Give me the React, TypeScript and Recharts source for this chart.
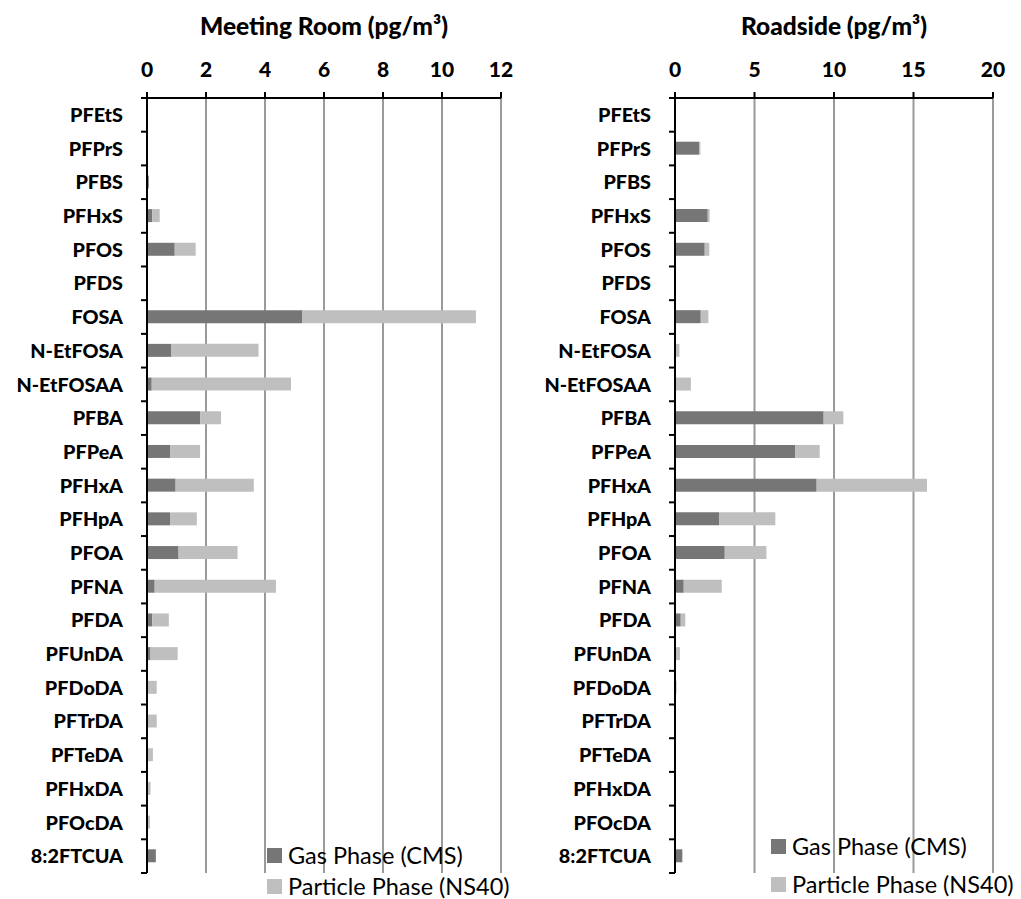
import React from 'react';
import { BarChart, Bar, XAxis, YAxis, CartesianGrid, Legend, Label } from 'recharts';

const compounds = [
  'PFEtS', 'PFPrS', 'PFBS', 'PFHxS', 'PFOS', 'PFDS', 'FOSA', 'N-EtFOSA', 'N-EtFOSAA',
  'PFBA', 'PFPeA', 'PFHxA', 'PFHpA', 'PFOA', 'PFNA', 'PFDA', 'PFUnDA', 'PFDoDA',
  'PFTrDA', 'PFTeDA', 'PFHxDA', 'PFOcDA', '8:2FTCUA',
];

// pg/m3
const meetingGas = [0, 0, 0.06, 0.18, 0.94, 0, 5.27, 0.83, 0.16, 1.81, 0.78, 0.97, 0.78, 1.07, 0.26, 0.18, 0.12, 0, 0, 0, 0, 0, 0.3];
const meetingParticle = [0, 0, 0, 0.25, 0.71, 0, 5.88, 2.95, 4.72, 0.7, 1.02, 2.65, 0.91, 2.0, 4.11, 0.56, 0.92, 0.33, 0.33, 0.2, 0.12, 0.1, 0];
const roadGas = [0, 1.53, 0, 2.06, 1.87, 0, 1.62, 0, 0, 9.35, 7.55, 8.91, 2.77, 3.13, 0.55, 0.36, 0, 0, 0, 0, 0, 0, 0.46];
const roadParticle = [0, 0.07, 0, 0.12, 0.29, 0, 0.48, 0.28, 1.0, 1.24, 1.55, 6.94, 3.54, 2.62, 2.39, 0.29, 0.31, 0.1, 0.05, 0, 0, 0, 0];

const meetingTicks = [0, 2, 4, 6, 8, 10, 12];
const roadTicks = [0, 5, 10, 15, 20];

const GAS = 'Gas Phase (CMS)';
const PARTICLE = 'Particle Phase (NS40)';

const FONT = 'Lato, sans-serif';
const TICK_SIZE = 6;
const TICK_MARGIN = 18;

const meetingData = compounds.map((name, i) => ({ name, gas: meetingGas[i], particle: meetingParticle[i] }));
const roadData = compounds.map((name, i) => ({ name, gas: roadGas[i], particle: roadParticle[i] }));

// category label plus a short tick on the boundary between rows
function CompoundTick(props: any) {
  const { x, y, payload, index } = props;
  const half = payload.offset ?? 16.85;
  const lx1 = x + TICK_MARGIN;
  const lx2 = x + TICK_MARGIN + TICK_SIZE;
  return (
    <g>
      <text x={x} y={y} dy="0.36em" textAnchor="end" fontFamily={FONT} fontWeight={900} fontSize={19.8} fill="#000">
        {payload.value}
      </text>
      {index === 0 && <line x1={lx1} x2={lx2} y1={y - half} y2={y - half} stroke="#000" strokeWidth={2} />}
      <line x1={lx1} x2={lx2} y1={y + half} y2={y + half} stroke="#000" strokeWidth={2} />
    </g>
  );
}

function PhaseLegend(props: any) {
  const { payload, gap } = props;
  return (
    <div style={{ fontFamily: FONT }}>
      {(payload || []).map((p: any, i: number) => (
        <div key={i} style={{ display: 'flex', alignItems: 'center', height: 20, marginBottom: gap - 20 }}>
          <span style={{ width: 15, height: 15, background: p.color, marginRight: 6, display: 'inline-block' }} />
          <span style={{ fontSize: 23.5, lineHeight: '20px', color: '#000', whiteSpace: 'nowrap' }}>{p.value}</span>
        </div>
      ))}
    </div>
  );
}

function Panel(props: any) {
  const { data, title, ticks, max, width, yWidth, right, legendLeft, legendTop, legendGap } = props;
  return (
    <BarChart
      layout="vertical"
      width={width}
      height={899}
      data={data}
      margin={{ top: 0, right, bottom: 26, left: 0 }}
      barCategoryGap={0}
    >
      <CartesianGrid horizontal={false} vertical stroke="#9a9a9a" strokeWidth={2} />
      <XAxis
        type="number"
        orientation="top"
        height={98}
        domain={[0, max]}
        ticks={ticks}
        interval={0}
        tickSize={TICK_SIZE}
        tickMargin={15}
        axisLine={{ stroke: '#000', strokeWidth: 2 }}
        tickLine={{ stroke: '#000', strokeWidth: 2 }}
        tick={{ fill: '#000', fontFamily: FONT, fontWeight: 900, fontSize: 21 }}
      >
        <Label
          value={title}
          position="insideTop"
          offset={18}
          style={{ fill: '#000', fontFamily: FONT, fontWeight: 900, fontSize: 24.5 }}
        />
      </XAxis>
      <YAxis
        type="category"
        dataKey="name"
        width={yWidth}
        interval={0}
        tickSize={TICK_SIZE}
        tickMargin={TICK_MARGIN}
        tickLine={false}
        axisLine={{ stroke: '#000', strokeWidth: 2 }}
        tick={<CompoundTick />}
      />
      <Legend
        layout="vertical"
        align="center"
        verticalAlign="middle"
        wrapperStyle={{ left: legendLeft, top: legendTop, width: 280, height: 52 }}
        content={<PhaseLegend gap={legendGap} />}
      />
      <Bar dataKey="gas" name={GAS} stackId="a" fill="#767676" barSize={13} isAnimationActive={false} />
      <Bar dataKey="particle" name={PARTICLE} stackId="a" fill="#bfbfbf" barSize={13} isAnimationActive={false} />
    </BarChart>
  );
}

export default function App() {
  return (
    <div style={{ position: 'absolute', left: 0, top: 0, width: 1021, height: 899, background: '#fff', fontFamily: FONT, overflow: 'hidden' }}>
      <div style={{ position: 'absolute', left: 0, top: 0 }}>
        <Panel
          data={meetingData}
          title="Meeting Room (pg/m³)"
          ticks={meetingTicks}
          max={12}
          width={520}
          yWidth={147}
          right={19}
          legendLeft={267}
          legendTop={845}
          legendGap={31}
        />
      </div>
      <div style={{ position: 'absolute', left: 530, top: 0 }}>
        <Panel
          data={roadData}
          title="Roadside (pg/m³)"
          ticks={roadTicks}
          max={20}
          width={491}
          yWidth={145}
          right={28}
          legendLeft={241}
          legendTop={836}
          legendGap={38}
        />
      </div>
    </div>
  );
}
